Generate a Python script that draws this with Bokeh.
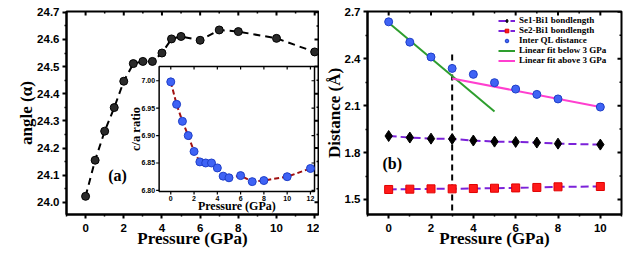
import math
from bokeh.plotting import figure
from bokeh.layouts import row
from bokeh.models import (Range1d, FixedTicker, Legend, LegendItem,
                          Label, NumeralTickFormatter)
from bokeh.core.properties import value
from bokeh.embed import file_html
from bokeh.resources import INLINE

# ---------------- data ----------------
# panel (a): angle vs pressure
pa_pressure = [0, 0.5, 1, 1.5, 2, 2.5, 3, 3.5, 4, 4.5, 5, 6, 7, 8, 10, 12]
pa_angle = [24.022, 24.155, 24.262, 24.349, 24.446, 24.511, 24.519, 24.519,
            24.550, 24.602, 24.611, 24.597, 24.635, 24.629, 24.604, 24.554]
pa_xticks = [0, 2, 4, 6, 8, 10, 12]
pa_xminor = [-1, 1, 3, 5, 7, 9, 11]
pa_yticks = [24.0, 24.1, 24.2, 24.3, 24.4, 24.5, 24.6, 24.7]
pa_yminor = [24.05, 24.15, 24.25, 24.35, 24.45, 24.55, 24.65]
# inset: c/a ratio vs pressure
inset_pressure = [0, 0.5, 1, 1.5, 2, 2.5, 3, 3.5, 4, 4.5, 5, 6, 7, 8, 10, 12]
inset_ca = [6.998, 6.957, 6.926, 6.900, 6.871, 6.852, 6.850, 6.850,
            6.841, 6.826, 6.823, 6.827, 6.816, 6.818, 6.825, 6.840]
inset_xticks = [0, 2, 4, 6, 8, 10, 12]
inset_yticks = [6.80, 6.85, 6.90, 6.95, 7.00]

# panel (b): distances vs pressure
pb_pressure = [0, 1, 2, 3, 4, 5, 6, 7, 8, 10]
inter_ql = [2.636, 2.506, 2.411, 2.338, 2.300, 2.247, 2.206, 2.172, 2.143, 2.091]
se1_bi1 = [1.906, 1.896, 1.889, 1.887, 1.877, 1.870, 1.868, 1.864, 1.857, 1.851]
se2_bi1 = [1.564, 1.566, 1.568, 1.568, 1.570, 1.572, 1.574, 1.577, 1.581, 1.583]
fit_below_x = [0, 5]
fit_below_y = [2.630, 2.062]
fit_above_x = [3, 10]
fit_above_y = [2.274, 2.091]
transition_p = 3
transition_span = [1.43, 2.45]
pb_xticks = [0, 2, 4, 6, 8, 10]
pb_xminor = [-1, 1, 3, 5, 7, 9, 11]
pb_yticks = [1.5, 1.8, 2.1, 2.4, 2.7]
pb_yminor = [1.65, 1.95, 2.25, 2.55]

SANS = "Liberation Sans"
SERIF = "Liberation Serif"


def style_axes(p, xticks, xminor, yticks, yminor, xlabel, ylabel):
    p.xaxis.ticker = FixedTicker(ticks=xticks, minor_ticks=xminor)
    p.yaxis.ticker = FixedTicker(ticks=yticks, minor_ticks=yminor)
    p.yaxis.formatter = NumeralTickFormatter(format="0.0")
    p.xaxis.axis_label = xlabel
    p.yaxis.axis_label = ylabel
    for ax in (p.xaxis[0], p.yaxis[0]):
        ax.axis_line_width = 2
        ax.axis_line_color = "black"
        ax.major_tick_line_width = 2
        ax.minor_tick_line_width = 1.5
        ax.major_tick_line_color = "black"
        ax.minor_tick_line_color = "black"
        ax.major_tick_out = 4
        ax.major_tick_in = 0
        ax.minor_tick_out = 2
        ax.minor_tick_in = 0
        ax.major_label_text_font = SANS
        ax.major_label_text_font_style = "bold"
        ax.major_label_text_font_size = "11.5px"
        ax.major_label_text_color = "black"
        ax.axis_label_text_font = SERIF
        ax.axis_label_text_font_style = "bold"
        ax.axis_label_text_font_size = "17px"
        ax.axis_label_text_color = "black"
    p.xaxis.major_label_standoff = 5
    p.xaxis.axis_label_standoff = -6
    p.yaxis.major_label_standoff = 3
    p.yaxis.axis_label_standoff = -2
    p.xgrid.visible = False
    p.ygrid.visible = False
    p.outline_line_color = "black"
    p.outline_line_width = 2
    # mirrored inward ticks on the top and right edges of the frame
    xr, yr = p.x_range, p.y_range
    for ticks, ln in ((xticks, 4), (xminor, 2)):
        p.ray(x=ticks, y=[yr.end] * len(ticks), length=ln, length_units="screen",
              angle=-math.pi / 2, line_color="black", line_width=2 if ln == 4 else 1.5)
    for ticks, ln in ((yticks, 4), (yminor, 2)):
        p.ray(x=[xr.end] * len(ticks), y=ticks, length=ln, length_units="screen",
              angle=math.pi, line_color="black", line_width=2 if ln == 4 else 1.5)


# ---------------- panel (a) ----------------
pa = figure(width=319, height=256, output_backend="svg", toolbar_location=None,
            x_range=Range1d(-1, 12.2), y_range=Range1d(23.955, 24.703),
            min_border_left=66, min_border_right=1, min_border_top=11,
            min_border_bottom=42)
style_axes(pa, pa_xticks, pa_xminor, pa_yticks, pa_yminor,
           "Pressure (GPa)", "angle (α)")

pa.line(pa_pressure, pa_angle, line_color="black", line_width=2, line_dash="7 5")
pa.scatter(pa_pressure, pa_angle, size=8, fill_color="#2a2a2a", line_color="black")
pa.add_layout(Label(x=1.67, y=24.10, text="(a)", text_font=SERIF,
                    text_font_style="bold", text_font_size="16px", text_color="black",
                    text_align="center", text_baseline="middle"))

# inset placed via extra ranges (inset box given as fraction of the frame)
ix_lo, ix_hi = -1.0, 12.35
iy_lo, iy_hi = 6.798, 7.026
fx0, fx1, fy0, fy1 = 0.3676, 0.9842, 0.1133, 0.729
sx = (ix_hi - ix_lo) / (fx1 - fx0)
sy = (iy_hi - iy_lo) / (fy1 - fy0)
pa.extra_x_ranges = {"ix": Range1d(ix_lo - fx0 * sx, ix_lo - fx0 * sx + sx)}
pa.extra_y_ranges = {"iy": Range1d(iy_lo - fy0 * sy, iy_lo - fy0 * sy + sy)}
kw = dict(x_range_name="ix", y_range_name="iy")

pa.quad(left=[ix_lo], right=[ix_hi], bottom=[iy_lo], top=[iy_hi],
        fill_color="white", line_color="black", line_width=1.5, **kw)
pa.ray(x=inset_xticks, y=[iy_lo] * len(inset_xticks), length=3, length_units="screen",
       angle=-math.pi / 2, line_color="black", line_width=1.2, **kw)
pa.ray(x=inset_xticks, y=[iy_hi] * len(inset_xticks), length=3, length_units="screen",
       angle=-math.pi / 2, line_color="black", line_width=1.2, **kw)
pa.ray(x=[ix_lo] * len(inset_yticks), y=inset_yticks, length=3, length_units="screen",
       angle=math.pi, line_color="black", line_width=1.2, **kw)
pa.ray(x=[ix_hi] * len(inset_yticks), y=inset_yticks, length=3, length_units="screen",
       angle=math.pi, line_color="black", line_width=1.2, **kw)
pa.text(x=inset_xticks, y=[iy_lo] * len(inset_xticks),
        text=[str(t) for t in inset_xticks], y_offset=6.5,
        text_font=value(SANS), text_font_style="bold", text_font_size="7px",
        text_align="center", text_baseline="middle", **kw)
pa.text(x=[ix_lo] * len(inset_yticks), y=inset_yticks,
        text=[f"{t:.2f}" for t in inset_yticks], x_offset=-4,
        text_font=value(SANS), text_font_style="bold", text_font_size="7px",
        text_align="right", text_baseline="middle", **kw)
pa.text(x=[(ix_lo + ix_hi) / 2], y=[iy_lo], text=["Pressure (GPa)"], y_offset=14,
        text_font=value(SERIF), text_font_style="bold", text_font_size="12px",
        text_align="center", text_baseline="middle", **kw)
pa.text(x=[ix_lo], y=[(iy_lo + iy_hi) / 2], text=["c/a ratio"], x_offset=-23,
        angle=math.pi / 2,
        text_font=value(SERIF), text_font_style="bold", text_font_size="12.5px",
        text_align="center", text_baseline="middle", **kw)
pa.line(inset_pressure, inset_ca, line_color="#a01010", line_width=2,
        line_dash="5 3", **kw)
pa.scatter(inset_pressure, inset_ca, size=8, fill_color="#3f63f5",
           line_color="#1f3fc8", **kw)

# ---------------- panel (b) ----------------
pb = figure(width=306, height=256, output_backend="svg", toolbar_location=None,
            x_range=Range1d(-1, 11), y_range=Range1d(1.404, 2.702),
            min_border_left=48, min_border_right=4, min_border_top=11,
            min_border_bottom=42)
style_axes(pb, pb_xticks, pb_xminor, pb_yticks, pb_yminor,
           "Pressure (GPa)", "Distance (Å)")

pb.segment(x0=[transition_p], y0=[transition_span[0]], x1=[transition_p],
           y1=[transition_span[1]], line_color="black", line_width=2, line_dash="6 4")
r_green = pb.line(fit_below_x, fit_below_y, line_color="#2e9e2e", line_width=2)
r_mag = pb.line(fit_above_x, fit_above_y, line_color="#ff3fcf", line_width=2)
r_se1l = pb.line(pb_pressure, se1_bi1, line_color="#7b22d9", line_width=2, line_dash="8 4")
r_se1m = pb.scatter(pb_pressure, se1_bi1, marker="diamond", size=11,
                    fill_color="black", line_color="black")
r_se2l = pb.line(pb_pressure, se2_bi1, line_color="#7b22d9", line_width=2, line_dash="8 4")
r_se2m = pb.scatter(pb_pressure, se2_bi1, marker="square", size=8,
                    fill_color="#ff1a1a", line_color="#e00000")
r_ql = pb.scatter(pb_pressure, inter_ql, size=8, fill_color="#3f63f5",
                  line_color="#1f3fc8")
pb.add_layout(Label(x=0.17, y=1.727, text="(b)", text_font=SERIF,
                    text_font_style="bold", text_font_size="16px", text_color="black",
                    text_align="center", text_baseline="middle"))

legend = Legend(items=[
    LegendItem(label="Se1-Bi1 bondlength", renderers=[r_se1l, r_se1m]),
    LegendItem(label="Se2-Bi1 bondlength", renderers=[r_se2l, r_se2m]),
    LegendItem(label="Inter QL distance", renderers=[r_ql]),
    LegendItem(label="Linear fit below 3 GPa", renderers=[r_green]),
    LegendItem(label="Linear fit above 3 GPa", renderers=[r_mag]),
], location=(129, 147), margin=0, padding=2, spacing=0,
    label_text_font=SERIF, label_text_font_style="bold", label_text_font_size="9px",
    label_text_color="black",
    label_height=9, glyph_height=9, glyph_width=17, label_standoff=4,
    background_fill_alpha=0, border_line_alpha=0)
pb.add_layout(legend)

layout = row(pa, pb)
open("out.html", "w").write(file_html(layout, INLINE))
